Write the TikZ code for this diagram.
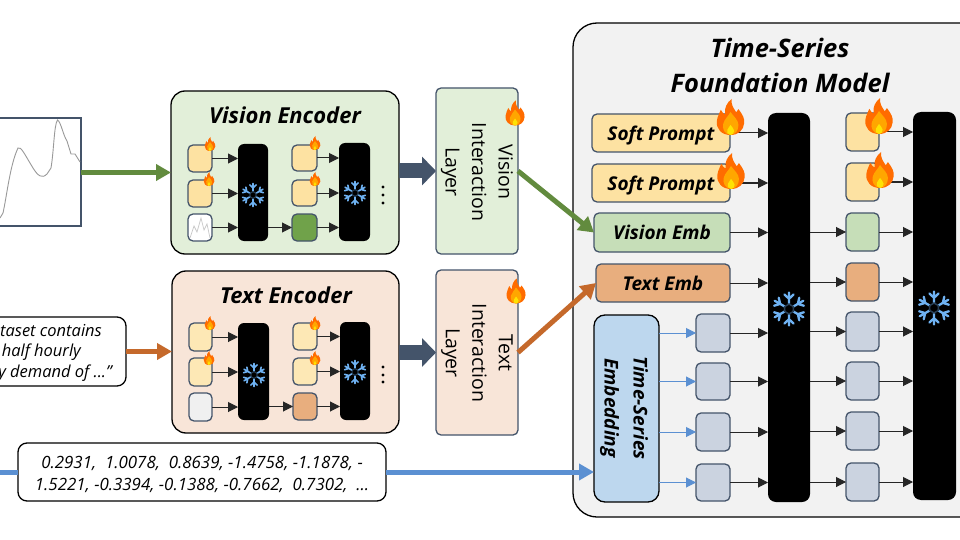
\documentclass[tikz,border=0pt]{standalone}
\usepackage{fontspec}
\setmainfont{Open Sans}
\usetikzlibrary{arrows.meta}
\definecolor{navy}{HTML}{44546A}
\definecolor{cgreen}{HTML}{E2EFD9}
\definecolor{cpeach}{HTML}{F8E5D8}
\definecolor{cyel}{HTML}{FDE2A2}
\definecolor{cemb}{HTML}{C6DEB8}
\definecolor{ctxt}{HTML}{E8AE7E}
\definecolor{cgray}{HTML}{CBD3E0}
\definecolor{cblue}{HTML}{BDD7EE}
\definecolor{agreen}{HTML}{628B3E}
\definecolor{vgreen}{HTML}{70A24A}
\definecolor{abrown}{HTML}{C5692B}
\definecolor{ablue}{HTML}{5B90D2}
\definecolor{sflake}{HTML}{6FB2F2}
\tikzset{
  box/.style={draw=navy,line width=1.3pt,rounded corners=5pt,inner sep=0pt,outer sep=0pt,align=center},
  encbox/.style={box,draw=black,rounded corners=14pt},
  bar/.style={box,draw=none,fill=black,rounded corners=6pt},
  arr/.style={draw=black!85,line width=1pt,-{Triangle[length=10pt,width=10pt]}},
  barr/.style={draw=ablue,line width=1pt,-{Triangle[length=10pt,width=10pt]}},
  fat/.style={line width=5pt,-{Triangle[length=15pt,width=16pt]}},
  dark/.style={draw=navy,line width=15pt,-{Triangle[length=14pt,width=28pt]}},
  title/.style={inner sep=0pt,font=\fontsize{22}{26}\selectfont\bfseries\itshape},
  bigtitle/.style={inner sep=0pt,font=\fontsize{25.5}{30}\selectfont\bfseries\itshape},
  vert/.style={inner sep=0pt,rotate=-90,align=center,font=\fontsize{19.5}{26.5}\selectfont},
  prompttext/.style={anchor=east,inner sep=0pt,font=\fontsize{16.5}{20}\selectfont\itshape},
}
\newcommand\lab{\fontsize{19}{22}\selectfont\bfseries\itshape}
\newcommand\bx[7][]{\node[box,#1,minimum width={#5-(#3)},minimum height={#6-(#4)}] (#2) at ({(#3+#5)/2},{(#4+#6)/2}) {#7};}
\newcommand\flame[3]{%
  \begin{scope}[shift={(#1,#2)},x=#3pt,y=-#3pt]
    \fill[orange!85!red] (0,.5) .. controls (-.25,.5) and (-.4,.33) .. (-.38,.12) .. controls (-.37,-.02) and (-.3,-.1) .. (-.27,-.2) .. controls (-.22,-.12) and (-.2,-.09) .. (-.15,-.07) .. controls (-.18,-.25) and (-.1,-.4) .. (.03,-.5) .. controls (.01,-.35) and (.08,-.25) .. (.16,-.13) .. controls (.19,-.15) and (.2,-.18) .. (.22,-.22) .. controls (.33,-.08) and (.4,.05) .. (.38,.17) .. controls (.36,.37) and (.22,.5) .. (0,.5) -- cycle;
    \fill[orange!70!yellow] (0,.5) .. controls (-.17,.48) and (-.24,.32) .. (-.2,.18) .. controls (-.17,.06) and (-.06,-.02) .. (0,-.14) .. controls (.08,-.02) and (.22,.08) .. (.22,.22) .. controls (.22,.38) and (.14,.48) .. (0,.5) -- cycle;
    \fill[yellow!85!orange] (0,.5) .. controls (-.08,.5) and (-.11,.42) .. (-.09,.36) .. controls (-.07,.3) and (-.02,.27) .. (0,.22) .. controls (.03,.27) and (.09,.32) .. (.1,.38) .. controls (.1,.45) and (.06,.5) .. (0,.5) -- cycle;
  \end{scope}}
\newcommand\snow[3]{%
  \begin{scope}[shift={(#1,#2)},x=#3pt,y=#3pt]
    \foreach \a in {0,60,...,300}{
      \draw[sflake,line width=#3*0.14pt,line cap=round,rotate=\a] (0,.3) -- (0,1) (-.28,.88) -- (0,.62) -- (.28,.88);
    }
    \draw[black!65!sflake,line width=#3*0.09pt] (90:.3) -- (150:.3) -- (210:.3) -- (270:.3) -- (330:.3) -- (30:.3) -- cycle;
  \end{scope}}
\begin{document}
\begin{tikzpicture}[x=1pt,y=-1pt]
\useasboundingbox (0,0) rectangle (960,540);
\clip (0,0) rectangle (960,540);
\fill[white] (0,0) rectangle (960,540);

% foundation model panel
\bx[encbox,draw=black,fill=black!5,rounded corners=24pt]{model}{573}{23}{990}{517}{}
\node[bigtitle] (mt1) at (780,48) {Time-Series};
\node[bigtitle] (mt2) at (780,83) {Foundation Model};

% left inputs
\bx[draw=navy,fill=white,rounded corners=0pt]{plot}{-6}{118}{81}{226}{}
\draw[black!40,line width=.9pt] (0,218) -- (3,213) .. controls (7,195) and (10,165) .. (18,148) .. controls (21,146) and (25,155) .. (33,168) .. controls (38,176) and (42,179) .. (47,174) -- (51,168) .. controls (54,150) and (54,125) .. (57.5,120) .. controls (61,122) and (63,135) .. (67,141) -- (71,154) -- (75,154) -- (80,162);
\bx[draw=black,fill=white,rounded corners=9pt]{prompt}{-20}{317}{126}{386}{}
\node[prompttext] (p1) at (102,331) {taset contains};
\node[prompttext] (p2) at (81,352) {half hourly};
\node[prompttext] (p3) at (112,373) {y demand of ...”};
\coordinate (tsin) at (-2,472);
\bx[draw=black,fill=white,rounded corners=9pt]{nums}{18}{443}{386}{501}{}
\node[inner sep=0pt,font=\fontsize{16.9}{22}\selectfont\itshape,align=center] (numt) at (202,474) {0.2931,\ \ 1.0078,\ \ 0.8639, -1.4758, -1.1878, -\\1.5221, -0.3394, -0.1388, -0.7662,\ \ 0.7302,\ \ ...};

% vision encoder
\bx[encbox,fill=cgreen]{venc}{171}{91}{399}{254}{}
\node[title] (vt) at (285,115) {Vision Encoder};
\bx[fill=cyel]{va1}{188}{145}{212}{172}{}
\bx[fill=cyel]{va2}{188}{180}{212}{207}{}
\bx[fill=white]{va3}{188}{214}{212}{241}{}
\draw[black!22,line width=.7pt] (190,238) -- (194,226) -- (197,232) -- (201,218) -- (204,230) -- (207,224) -- (210,238);
\bx[bar]{vb1}{238}{144}{268}{241}{}
\bx[fill=cyel]{vc1}{292}{145}{317}{171}{}
\bx[fill=cyel]{vc2}{292}{180}{317}{206}{}
\bx[fill=vgreen]{vc3}{292}{214}{317}{241}{}
\bx[bar]{vb2}{339}{143}{370}{241}{}
\foreach \f in {va1,va2,va3}{\draw[arr] (\f.east) -- (\f.east -| vb1.west);}
\draw[arr] (vb1.east |- vc3.west) -- (vc3.west);
\foreach \f in {vc1,vc2,vc3}{\draw[arr] (\f.east) -- (\f.east -| vb2.west);}
\snow{253}{195}{11.5}\snow{355}{193}{11.5}
\flame{210}{144}{14}\flame{209}{179}{14}\flame{315}{143}{14}\flame{315}{179}{14}
\foreach \y in {187,195,203}{\fill (383,\y) circle (1.7);}

% text encoder
\bx[encbox,fill=cpeach]{tenc}{172}{271}{399}{433}{}
\node[title] (tt) at (286,295) {Text Encoder};
\bx[fill=cyel!80!white]{ta1}{189}{323}{212}{351}{}
\bx[fill=cyel!80!white]{ta2}{189}{358}{212}{386}{}
\bx[fill=black!6]{ta3}{189}{393}{212}{421}{}
\bx[bar]{tb1}{238}{323}{269}{420}{}
\bx[fill=cyel!80!white]{tc1}{293}{323}{317}{350}{}
\bx[fill=cyel!80!white]{tc2}{293}{358}{317}{385}{}
\bx[fill=ctxt]{tc3}{293}{393}{317}{420}{}
\bx[bar]{tb2}{340}{322}{370}{420}{}
\foreach \f in {ta1,ta2,ta3}{\draw[arr] (\f.east) -- (\f.east -| tb1.west);}
\draw[arr] (tb1.east |- tc3.west) -- (tc3.west);
\foreach \f in {tc1,tc2,tc3}{\draw[arr] (\f.east) -- (\f.east -| tb2.west);}
\snow{254}{375}{11.5}\snow{355}{372}{11.5}
\flame{210}{323}{14}\flame{209}{358}{14}\flame{315}{323}{14}\flame{315}{358}{14}
\foreach \y in {367,375,382}{\fill (383,\y) circle (1.7);}

% interaction layers
\bx[fill=cgreen]{vil}{436}{88}{518}{254}{}
\node[vert] (vilt) at (477,172) {Vision\\Interaction\\Layer};
\bx[fill=cpeach]{til}{436}{270}{518}{435}{}
\node[vert] (tilt) at (477,353) {Text\\Interaction\\Layer};
\flame{515}{113}{25}\flame{516}{291}{25}

% foundation model contents
\bx[fill=cyel,text depth=0pt]{sp1}{592}{114}{730}{152}{\lab Soft Prompt}
\bx[fill=cyel,text depth=0pt]{sp2}{592}{164}{730}{202}{\lab Soft Prompt}
\bx[fill=cemb]{ve}{594}{213}{730}{252}{\lab Vision Emb}
\bx[fill=ctxt]{te}{596}{264}{730}{302}{\lab Text Emb}
\bx[draw=black,fill=cblue,rounded corners=11pt]{tse}{594}{315}{659}{502}{}
\node[vert,font=\fontsize{19}{29}\selectfont\bfseries\itshape] (tset) at (624,408) {Time-Series\\Embedding};
\bx[fill=cgray]{i1}{696}{314}{730}{352}{}
\bx[fill=cgray]{i2}{696}{363}{730}{400}{}
\bx[fill=cgray]{i3}{696}{413}{730}{451}{}
\bx[fill=cgray]{i4}{696}{464}{730}{501}{}
\bx[bar,rounded corners=8pt]{b1}{768}{113}{810}{502}{}
\bx[bar,rounded corners=8pt]{b2}{913}{112}{956}{500}{}
\bx[fill=cyel]{c1}{846}{113}{879}{151}{}
\bx[fill=cyel]{c2}{846}{163}{879}{201}{}
\bx[fill=cemb]{c3}{846}{213}{879}{251}{}
\bx[fill=ctxt]{c4}{846}{263}{879}{301}{}
\bx[fill=cgray]{c5}{846}{312}{879}{351}{}
\bx[fill=cgray]{c6}{846}{362}{879}{400}{}
\bx[fill=cgray]{c7}{846}{412}{879}{450}{}
\bx[fill=cgray]{c8}{846}{463}{879}{501}{}
\foreach \f in {sp1,sp2,ve,te,i1,i2,i3,i4}{\draw[arr] (\f.east) -- (\f.east -| b1.west);}
\foreach \f in {c3,c4,c5,c6,c7,c8}{\draw[arr] (b1.east |- \f.west) -- (\f.west);}
\foreach \f in {c1,c2,c3,c4,c5,c6,c7,c8}{\draw[arr] (\f.east) -- (\f.east -| b2.west);}
\foreach \f in {i1,i2,i3,i4}{\draw[barr] (tse.east |- \f.west) -- (\f.west);}
\snow{789}{309}{16.5}\snow{934}{308}{16.5}
\flame{730.5}{117}{36}\flame{731}{171}{36}\flame{879}{116}{36}\flame{880}{170}{36}

% top-level arrows
\draw[fat,agreen] (plot.east |- venc.west) -- (venc.west);
\draw[fat,abrown] (prompt.east) -- (prompt.east -| tenc.west);
\draw[ablue,line width=5pt] (tsin) -- (nums.west);
\draw[fat,ablue] (nums.east) -- (nums.east -| tse.west);
\draw[dark] (venc.east |- vil.west) -- (vil.west);
\draw[dark] (tenc.east |- til.west) -- (til.west);
\draw[fat,agreen,-{Triangle[length=15pt,width=17pt]}] (vil.east) -- (ve.west);
\draw[fat,abrown,-{Triangle[length=15pt,width=17pt]}] (til.east) -- (te.west);
\end{tikzpicture}
\end{document}
